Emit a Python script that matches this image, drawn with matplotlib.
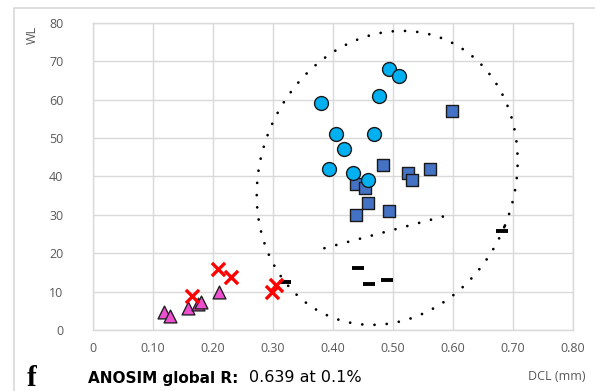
import numpy as np
import matplotlib
matplotlib.use("Agg")
import matplotlib.pyplot as plt
from matplotlib.patches import Rectangle

# ---- data ----
circ_x = [0.493, 0.510, 0.381, 0.477, 0.405, 0.469, 0.418, 0.394, 0.433, 0.458]
circ_y = [68, 66, 59, 61, 51, 51, 47, 42, 41, 39]

sq_x = [0.598, 0.484, 0.526, 0.562, 0.532, 0.439, 0.453, 0.459, 0.438, 0.494]
sq_y = [57, 43, 41, 42, 39, 38, 37, 33, 30, 31]

dash_x = [0.442, 0.461, 0.490, 0.682, 0.320]
dash_y = [16.1, 12.0, 13.1, 25.9, 12.4]

x_x = [0.209, 0.230, 0.165, 0.299, 0.305]
x_y = [15.9, 13.9, 8.9, 10.0, 11.8]

tri_x = [0.118, 0.128, 0.159, 0.176, 0.181, 0.210]
tri_y = [4.8, 3.6, 5.6, 6.7, 7.3, 9.8]

# ellipse annotation (center in data, semi-axes in screen pixels, tilt deg)
ell_center = (0.4905, 39.6)
ell_a_px, ell_b_px, ell_tilt = 127, 150, -22
# dotted separator line
sep_x = [0.386, 0.592]
sep_y = [21.3, 29.9]

xticks = [0, 0.1, 0.2, 0.3, 0.4, 0.5, 0.6, 0.7, 0.8]
xtick_labels = ["0", "0.10", "0.20", "0.30", "0.40", "0.50", "0.60", "0.70", "0.80"]
yticks = [0, 10, 20, 30, 40, 50, 60, 70, 80]

W, H = 595, 391
fig = plt.figure(figsize=(W / 100, H / 100), dpi=100)
L, R, T, B = 92.7, 573, 22.7, 330
ax = fig.add_axes([L / W, 1 - B / H, (R - L) / W, (B - T) / H])
ax.set_xlim(0, 0.8)
ax.set_ylim(0, 80)

grid_c = "#D9D9D9"
ax.set_xticks(xticks)
ax.set_xticklabels(xtick_labels)
ax.set_yticks(yticks)
ax.grid(True, color=grid_c, lw=1)
ax.set_axisbelow(True)
for s in ax.spines.values():
    s.set_color(grid_c)
    s.set_linewidth(1)
ax.tick_params(length=0, labelsize=9, labelcolor="#595959")
ax.tick_params(axis="x", pad=9)
ax.tick_params(axis="y", pad=21)
for lab in ax.get_xticklabels() + ax.get_yticklabels():
    lab.set_fontfamily("Open Sans")

# ellipse points computed in pixel space then mapped to data
sx = (R - L) / 0.8
sy = (B - T) / 80
t = np.linspace(0, 2 * np.pi, 400)
th = np.deg2rad(ell_tilt)
px = ell_a_px * np.cos(t)
py = ell_b_px * np.sin(t)
rx = px * np.cos(th) - py * np.sin(th)
ry = px * np.sin(th) + py * np.cos(th)
ex = ell_center[0] + rx / sx
ey = ell_center[1] + ry / sy
ax.plot(ex, ey, color="black", lw=2.0, ls=(0, (0.01, 4.4)),
        dash_capstyle="round", zorder=2)
ax.plot(sep_x, sep_y, color="black", lw=2.0, ls=(0, (0.01, 4.4)),
        dash_capstyle="round", zorder=2)

ax.scatter(tri_x, tri_y, marker="^", s=85, c="#EE4ED0", edgecolors="#222222",
           linewidths=1, zorder=3)
ax.scatter(x_x, x_y, marker="x", s=90, c="#FF0000", linewidths=2.4, zorder=4)
ax.plot(dash_x, dash_y, ls="none", marker="_", ms=8.5, mew=2.8, color="black", zorder=3)
ax.scatter(sq_x, sq_y, marker="s", s=85, c="#4472C4", edgecolors="#1a1a1a",
           linewidths=1, zorder=3)
ax.scatter(circ_x, circ_y, marker="o", s=100, c="#00B0F0", edgecolors="#1a1a1a",
           linewidths=1, zorder=4)

# outer chart border
fig.patches.append(Rectangle((14 / W, -0.02), 1.1, 1 - 8 / H + 0.02,
                             transform=fig.transFigure, fill=False,
                             edgecolor=grid_c, lw=1.2))

fig.text(32 / W, 1 - 35 / H, "WL", rotation=90, ha="center", va="center",
         fontsize=9, color="#595959", family="Open Sans")
fig.text(586 / W, 1 - 376 / H, "DCL (mm)", ha="right", va="center",
         fontsize=9, color="#595959", family="Open Sans")
fig.text(27 / W, 1 - 386 / H, "f", ha="left", va="baseline", fontsize=21,
         fontweight="bold", family="Liberation Serif", color="black")
fig.text(88 / W, 1 - 378 / H, "ANOSIM global R:", ha="left", va="center",
         fontsize=11, fontweight="bold", family="DejaVu Sans", color="black")
fig.text(249 / W, 1 - 378 / H, "0.639 at 0.1%", ha="left", va="center",
         fontsize=11.5, family="DejaVu Sans", color="black")

fig.savefig("out.png", dpi=100)
